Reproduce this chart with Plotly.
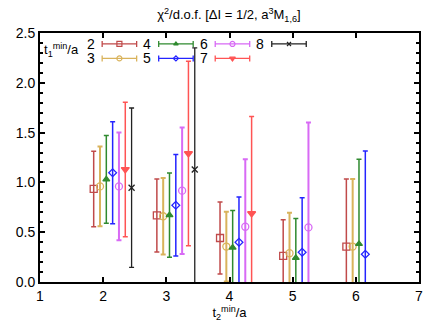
import plotly.graph_objects as go

# ---- data ----
t2_values = [2, 3, 4, 5, 6]
t1_values = [2, 3, 4, 5, 6, 7, 8]

chi2_t1_2 = [0.934, 0.668, 0.442, 0.262, 0.356]
err_t1_2 = [0.379, 0.366, 0.362, 0.363, 0.678]
chi2_t1_3 = [0.960, 0.660, 0.356, 0.289, 0.356]
err_t1_3 = [0.400, 0.384, 0.350, 0.406, 0.678]
chi2_t1_4 = [1.030, 0.671, 0.346, 0.242, 0.382]
err_t1_4 = [0.440, 0.423, 0.372, 0.396, 0.851]
chi2_t1_5 = [1.097, 0.771, 0.399, 0.299, 0.279]
err_t1_5 = [0.513, 0.509, 0.455, 0.548, 1.037]
chi2_t1_6 = [0.960, 0.917, 0.555, 0.548]
err_t1_6 = [0.540, 0.635, 0.678, 1.054]
chi2_t1_7 = [1.130, 1.290, 0.688]
err_t1_7 = [0.675, 0.926, 0.974]
chi2_t1_8 = [0.947, 1.130]
err_t1_8 = [0.800, 1.220]

chi2 = [chi2_t1_2, chi2_t1_3, chi2_t1_4, chi2_t1_5, chi2_t1_6, chi2_t1_7, chi2_t1_8]
errs = [err_t1_2, err_t1_3, err_t1_4, err_t1_5, err_t1_6, err_t1_7, err_t1_8]

x_ticks = [1, 2, 3, 4, 5, 6, 7]
y_ticks = [0.0, 0.5, 1.0, 1.5, 2.0, 2.5]

# ---- styles ----
colors = ["#c04a4a", "#d9b35c", "#2f8a2f", "#2424ff", "#d86af5", "#ff5454", "#222222"]
symbols = ["square-open", "circle-open", "triangle-up", "diamond-open",
           "circle-open", "triangle-down", "x-thin-open"]
msizes = [7, 7, 6, 6, 7, 7, 6]
lwidths = [1.5, 2, 1.5, 1.5, 2, 1.5, 1.3]
offset_step = 0.1
FONT = "Liberation Sans, Arial, sans-serif"

fig = go.Figure()

for i, t1 in enumerate(t1_values):
    ys = chi2[i]
    es = errs[i]
    xs = [t2_values[k] + (t1 - 3.5) * offset_step for k in range(len(ys))]
    fig.add_trace(go.Scatter(
        x=xs, y=ys, mode="markers", showlegend=False, cliponaxis=True,
        marker=dict(symbol=symbols[i], size=msizes[i], color=colors[i],
                    line=dict(color=colors[i], width=1.3)),
        error_y=dict(type="data", array=es, visible=True, color=colors[i],
                     thickness=lwidths[i], width=2.5),
    ))

# ---- manual gnuplot-style legend (text left of sample) ----
leg_x0 = 2.257
leg_dx = 0.895
leg_y0 = 2.39
leg_dy = 0.145
leg_half = 0.273
for i, t1 in enumerate(t1_values):
    col = (t1 - 2) // 2
    row = (t1 - 2) % 2
    mx = leg_x0 + col * leg_dx
    my = leg_y0 - row * leg_dy
    fig.add_trace(go.Scatter(
        x=[mx], y=[my], mode="markers", showlegend=False,
        marker=dict(symbol=symbols[i], size=msizes[i] - 2, color=colors[i],
                    line=dict(color=colors[i], width=1.2)),
        error_x=dict(type="constant", value=leg_half, visible=True,
                     color=colors[i], thickness=1.3, width=3),
    ))
    fig.add_annotation(x=mx - leg_half - 0.1, y=my, text=str(t1), showarrow=False,
                       xanchor="right", yanchor="middle", borderpad=0,
                       font=dict(family=FONT, size=14, color="black"))

fig.add_annotation(x=1.03, y=2.33, text="t<sub>1</sub><sup>min</sup>/a", showarrow=False,
                   xanchor="left", yanchor="middle",
                   font=dict(family=FONT, size=13, color="black"))

axis_common = dict(showline=True, linecolor="black", linewidth=2, mirror="ticks",
                   ticks="inside", tickcolor="black", showgrid=False, zeroline=False,
                   tickfont=dict(family=FONT, size=14, color="black"))

fig.update_layout(
    width=436, height=327,
    margin=dict(l=40, r=17, t=33, b=43),
    paper_bgcolor="white", plot_bgcolor="white",
    title=dict(text="χ<sup>2</sup>/d.o.f. [ΔI = 1/2, a<sup>3</sup>M<sub>1,6</sub>]",
               x=0.525, xanchor="center", y=0.955, yanchor="middle",
               font=dict(family=FONT, size=13, color="black")),
    xaxis=dict(range=[1, 7], tickvals=x_ticks, ticklen=5, tickwidth=1.5,
               title=dict(text="t<sub>2</sub><sup>min</sup>/a", standoff=2,
                          font=dict(family=FONT, size=13, color="black")),
               **axis_common),
    yaxis=dict(range=[0, 2.5], tickvals=y_ticks, ticktext=[f"{v:.1f}" for v in y_ticks],
               ticklen=5, tickwidth=1.5,
               minor=dict(dtick=0.1, ticks="inside", ticklen=3, tickcolor="black"),
               **axis_common),
)

fig.write_html("out.html", config={"displayModeBar": False},
               post_script="document.body.style.margin='0';")
